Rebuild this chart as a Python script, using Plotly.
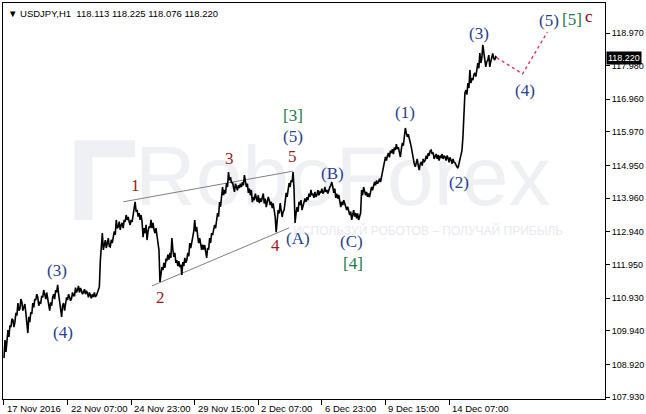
import plotly.graph_objects as go

# ---- data: hourly closes, one per H1 bar from 17 Nov 2016 15:00 ----
close = [
    109.11, 109.66, 109.30, 109.70, 109.96, 109.75, 110.10, 110.05, 110.30, 110.27,
    110.05, 110.20, 110.48, 110.40, 110.78, 110.55, 110.60, 110.90, 110.81, 110.55,
    110.66, 110.75, 110.48, 110.20, 109.87, 110.36, 110.20, 110.50, 110.45, 110.78,
    110.65, 110.90, 110.87, 111.05, 110.96, 110.70, 110.80, 110.78, 111.00, 110.95,
    111.17, 111.05, 110.90, 111.10, 110.87, 110.66, 110.55, 110.80, 110.70, 110.96,
    111.05, 110.90, 111.17, 111.10, 111.33, 111.05, 110.87, 110.60, 110.36, 110.70,
    110.78, 110.55, 110.75, 110.95, 110.87, 111.05, 110.96, 110.85, 110.92, 111.10,
    111.00, 111.00, 111.25, 111.10, 111.17, 111.30, 111.10, 111.24, 111.15, 111.05,
    111.11, 111.20, 111.05, 111.15, 111.08, 110.95, 111.10, 111.02, 110.92, 111.05,
    110.96, 111.10, 110.98, 111.00, 111.08, 111.20, 111.27, 112.08, 112.50, 112.90,
    112.39, 112.60, 112.69, 112.45, 112.60, 112.75, 112.50, 112.48, 112.70, 112.60,
    112.78, 112.95, 112.85, 113.30, 113.05, 113.09, 113.25, 113.00, 113.15, 113.21,
    113.05, 113.30, 113.24, 113.45, 113.30, 113.39, 113.25, 113.15, 113.30, 113.24,
    113.45, 113.60, 113.85, 113.55, 113.61, 113.40, 113.51, 113.30, 113.45, 113.24,
    112.78, 113.05, 112.90, 113.15, 112.69, 112.95, 113.10, 113.06, 113.30, 113.05,
    113.21, 113.00, 112.90, 113.05, 112.78, 112.60, 112.39, 111.42, 111.70, 111.87,
    111.78, 112.00, 111.85, 112.10, 112.08, 112.25, 112.10, 112.30, 112.15, 112.75,
    112.40, 112.18, 112.30, 112.00, 112.08, 111.90, 112.05, 111.87, 111.95, 111.63,
    112.02, 111.90, 112.15, 112.00, 112.08, 112.30, 112.20, 112.60, 112.45, 112.70,
    112.78, 112.95, 113.30, 112.95, 113.09, 112.80, 112.60, 112.75, 112.50, 112.39,
    112.55, 112.40, 112.54, 112.35, 112.15, 112.45, 112.40, 112.75, 112.60, 112.90,
    112.84, 113.00, 113.15, 113.05, 113.36, 113.51, 113.40, 113.84, 113.70, 113.99,
    114.30, 114.05, 114.21, 114.10, 114.42, 114.30, 114.75, 114.50, 114.60, 114.42,
    114.45, 114.30, 114.15, 114.40, 114.30, 114.20, 114.35, 114.27, 114.40, 114.30,
    114.45, 114.35, 114.66, 114.45, 114.30, 114.40, 114.12, 114.25, 114.05, 114.21,
    113.84, 114.00, 113.90, 114.10, 113.99, 113.85, 114.05, 113.81, 113.95, 113.85,
    113.99, 114.10, 113.80, 113.95, 113.69, 113.85, 114.00, 113.90, 113.75, 113.85,
    113.66, 113.80, 113.55, 113.39, 112.93, 113.35, 113.60, 113.50, 113.81, 113.60,
    113.39, 113.55, 113.60, 113.85, 114.12, 114.00, 114.30, 114.42, 114.30, 114.50,
    114.45, 114.75, 114.21, 113.21, 113.50, 113.69, 113.55, 113.85, 113.75, 113.90,
    113.60, 113.75, 113.81, 113.95, 113.85, 113.99, 113.90, 114.10, 114.00, 114.21,
    114.05, 114.10, 113.97, 114.15, 114.00, 114.06, 114.20, 114.05, 114.15, 114.12,
    114.25, 114.10, 114.15, 114.30, 114.15, 114.21, 114.10, 114.25, 114.30, 114.35,
    114.45, 114.30, 114.12, 114.25, 113.97, 114.10, 113.95, 114.06, 113.90, 113.69,
    113.85, 113.75, 113.90, 113.80, 113.75, 113.60, 113.70, 113.60, 113.45, 113.55,
    113.30, 113.45, 113.60, 113.40, 113.51, 113.35, 113.50, 113.30, 113.40, 113.51,
    114.21, 114.05, 114.30, 114.20, 114.05, 114.15, 114.00, 114.10, 113.99, 114.15,
    114.30, 114.20, 114.40, 114.45, 114.35, 114.50, 114.40, 114.45, 114.55, 114.45,
    114.60, 114.80, 114.90, 115.06, 115.21, 115.10, 115.25, 115.33, 115.20, 115.40,
    115.33, 115.45, 115.30, 115.50, 115.42, 115.60, 115.45, 115.51, 115.35, 115.21,
    115.45, 115.64, 115.55, 115.82, 116.09, 115.94, 115.82, 115.90, 115.70, 115.64,
    115.51, 115.30, 115.12, 115.00, 114.91, 115.06, 115.15, 114.95, 114.81, 115.00,
    115.06, 114.95, 115.15, 115.05, 115.12, 115.25, 115.15, 115.33, 115.25, 115.40,
    115.42, 115.30, 115.35, 115.15, 115.21, 115.30, 115.15, 115.27, 115.10, 115.25,
    115.18, 115.30, 115.15, 115.25, 115.21, 115.10, 115.25, 115.18, 115.05, 115.20,
    115.12, 115.00, 115.15, 115.05, 115.03, 114.95, 114.91, 114.87, 115.00, 115.06,
    115.21, 115.40, 115.82, 116.54, 117.15, 117.24, 117.10, 117.45, 117.30, 117.85,
    117.45, 117.60, 117.54, 117.70, 117.76, 117.65, 117.95, 118.06, 117.90, 118.36,
    118.06, 118.20, 118.61, 118.40, 118.24, 117.94, 118.10, 118.15, 118.30, 117.94,
    118.10, 118.24, 118.35, 118.20, 118.15, 118.25, 118.22,
]

proj_bars = [496, 522, 547]
proj_price = [118.22, 117.73, 119.00]

tri_upper_bars = [120, 291]
tri_upper_price = [113.85, 114.78]
tri_lower_bars = [149, 287]
tri_lower_price = [111.30, 113.06]

x_tick_bars = [0, 64, 128, 192, 256, 320, 384, 448]
x_tick_labels = ["17 Nov 2016", "22 Nov 07:00", "24 Nov 23:00", "29 Nov 15:00",
                 "2 Dec 07:00", "6 Dec 23:00", "9 Dec 15:00", "14 Dec 07:00"]
y_tick_vals = [107.93, 108.92, 109.94, 110.93, 111.95, 112.94, 113.96, 114.95, 115.97, 116.96, 117.98, 118.97]

wave_text = ["(3)", "(4)", "1", "2", "3", "4", "5", "(5)", "[3]", "(A)", "(B)", "(C)", "[4]",
             "(1)", "(2)", "(3)", "(4)", "(5)", "[5]", "c"]
wave_bar = [53, 59, 132, 158, 227, 273, 290, 291, 291, 296, 331, 350, 351,
            404, 458, 478, 524, 549, 572, 589]
wave_price = [111.78, 109.90, 114.36, 110.96, 115.15, 112.54, 115.21, 115.82, 116.48, 112.75, 114.72,
              112.66, 111.99, 116.57, 114.45, 118.97, 117.24, 119.36, 119.39, 119.46]
wave_degree = ["minor", "minor", "sub", "sub", "sub", "sub", "sub", "minor", "inter", "minor", "minor",
               "minor", "inter", "minor", "minor", "minor", "minor", "minor", "inter", "prim"]

last_price = "118.220"
header = "\u25BC USDJPY,H1  118.113 118.225 118.076 118.220"

degree_color = {"minor": "#27408f", "sub": "#9b1c1c", "inter": "#1a7a4a", "prim": "#8b0000"}

bars = list(range(len(close)))

fig = go.Figure()

# watermark
wm = "#eef0f4"
fig.add_shape(type="rect", xref="x", yref="y", x0=71, x1=132, y0=113.30, y1=115.72,
              fillcolor=wm, line=dict(width=0), layer="below")
fig.add_shape(type="rect", xref="x", yref="y", x0=89, x1=132, y0=113.30, y1=115.20,
              fillcolor="white", line=dict(width=0), layer="below")
fig.add_trace(go.Scatter(x=[341], y=[114.40], mode="text", text=["RoboForex"],
                         textfont=dict(family="Liberation Sans", size=84, color=wm),
                         hoverinfo="skip", showlegend=False))
fig.add_trace(go.Scatter(x=[427], y=[112.93], mode="text",
                         text=["ИСПОЛЬЗУЙ РОБОТОВ – ПОЛУЧАЙ ПРИБЫЛЬ"],
                         textfont=dict(family="Liberation Sans", size=12, color="#e7eaf0"),
                         hoverinfo="skip", showlegend=False))

# triangle lines
fig.add_trace(go.Scatter(x=tri_upper_bars, y=tri_upper_price, mode="lines",
                         line=dict(color="#808080", width=1), hoverinfo="skip", showlegend=False))
fig.add_trace(go.Scatter(x=tri_lower_bars, y=tri_lower_price, mode="lines",
                         line=dict(color="#808080", width=1), hoverinfo="skip", showlegend=False))

# price
fig.add_trace(go.Scatter(x=bars, y=close, mode="lines", line=dict(color="black", width=1.6),
                         showlegend=False))

# projection
fig.add_trace(go.Scatter(x=proj_bars, y=proj_price, mode="lines",
                         line=dict(color="#e0305f", width=1.4, dash="dot"), showlegend=False))

annotations = []
for t, b, p, d in zip(wave_text, wave_bar, wave_price, wave_degree):
    annotations.append(dict(x=b, y=p, xref="x", yref="y", text=t, showarrow=False,
                            font=dict(family="Liberation Serif", size=17, color=degree_color[d])))
for b, lab in zip(x_tick_bars, x_tick_labels):
    annotations.append(dict(x=b, y=0, xref="x", yref="paper", text=lab, showarrow=False,
                            xanchor="left", yanchor="top", xshift=1, yshift=-2,
                            font=dict(family="Liberation Sans", size=9.5, color="black")))
annotations.append(dict(x=0, y=1, xref="paper", yref="paper", text=header, showarrow=False,
                        xanchor="left", yanchor="top", xshift=3, yshift=-3,
                        font=dict(family="Liberation Sans", size=9.5, color="black")))
annotations.append(dict(x=1, y=float(last_price), xref="paper", yref="y", text=last_price,
                        showarrow=False, xanchor="left", yanchor="middle", xshift=1,
                        bgcolor="black", borderpad=1,
                        font=dict(family="Liberation Sans", size=9, color="white")))

fig.update_layout(
    width=646, height=414,
    margin=dict(l=2, r=39, t=3, b=15),
    paper_bgcolor="white", plot_bgcolor="white",
    annotations=annotations,
    xaxis=dict(range=[-1, 605], tickvals=x_tick_bars, showticklabels=False, ticks="outside",
               ticklen=5, tickcolor="black", showgrid=False, zeroline=False,
               showline=True, linecolor="black", linewidth=1, mirror=True),
    yaxis=dict(range=[107.87, 119.88], side="right", tickvals=y_tick_vals,
               ticktext=[f"{v:.3f}" for v in y_tick_vals], ticks="outside", ticklen=4,
               tickcolor="black", showgrid=False, zeroline=False,
               showline=True, linecolor="black", linewidth=1, mirror=True,
               tickfont=dict(family="Liberation Sans", size=9, color="black")),
)

fig.write_html("out.html", config={"displayModeBar": False},
               post_script="document.body.style.margin='0px';document.body.style.overflow='hidden';")
